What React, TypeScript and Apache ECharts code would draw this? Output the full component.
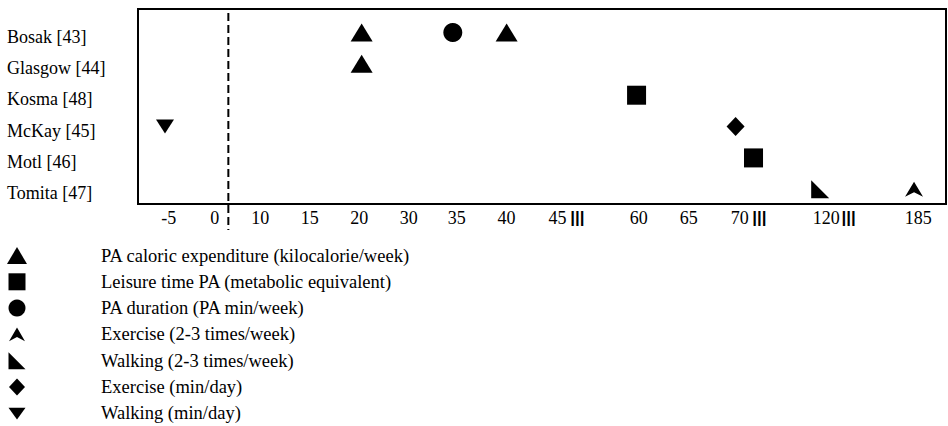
import React, { useEffect, useRef } from "react";
import * as echarts from "echarts";

const studies = ["Bosak [43]", "Glasgow [44]", "Kosma [48]", "McKay [45]", "Motl [46]", "Tomita [47]"];

// Broken x-axis: tick values and where each one sits along the axis (slot units).
const tickValues = [-5, 0, 10, 15, 20, 30, 35, 40, 45, 60, 65, 70, 120, 185];
const tickSlots = [0, 0.93, 1.85, 2.85, 3.85, 4.85, 5.82, 6.83, 7.86, 9.5, 10.51, 11.54, 13.29, 15.15];
const breakSlots = [8.26, 11.94, 13.74];
const breakMark = "|||";
const referenceValue = 3;

// Measures reported per study: [value, study]
const caloricExpenditure: [number, string][] = [[20.5, "Bosak [43]"], [40, "Bosak [43]"], [20.5, "Glasgow [44]"]];
const leisureTimeMet: [number, string][] = [[59.6, "Kosma [48]"], [78, "Motl [46]"]];
const paDuration: [number, string][] = [[34.6, "Bosak [43]"]];
const exerciseWeekly: [number, string][] = [[182, "Tomita [47]"]];
const walkingWeekly: [number, string][] = [[116.5, "Tomita [47]"]];
const exerciseDaily: [number, string][] = [[69.6, "McKay [45]"]];
const walkingDaily: [number, string][] = [[-5.4, "McKay [45]"]];

const SERIF = "'Liberation Serif', 'Times New Roman', serif";

// Piecewise-linear mapping of a value onto the broken axis.
function toSlot(v: number): number {
  const n = tickValues.length;
  let i = 0;
  if (v <= tickValues[0]) i = 0;
  else if (v >= tickValues[n - 1]) i = n - 2;
  else {
    while (i < n - 2 && v > tickValues[i + 1]) i++;
  }
  const t = (v - tickValues[i]) / (tickValues[i + 1] - tickValues[i]);
  return tickSlots[i] + t * (tickSlots[i + 1] - tickSlots[i]);
}

function points(list: [number, string][]) {
  return list.map(([v, s]) => [toSlot(v), studies.indexOf(s)]);
}

const Y_MIN = -0.75;
const Y_MAX = 5.47;
// study names sit slightly below their row of markers
const LABEL_DROP = 0.13;

// Marker shapes
const caretPath = "path://M9 0 L18 15 L9 10.5 L0 15 Z";
const rightTriPath = "path://M0 0 L18 18 L0 18 Z";
const downTriPath = "path://M0 0 L18 0 L9 14 Z";

// Legend icons (leading moveTo points pad the icon box so small glyphs keep their size)
const squareIcon = "path://M0 0 L17 0 L17 17 L0 17 Z";
const caretIcon = "path://M0 0 M15 16 M7.5 1.5 L15 14.5 L7.5 10.5 L0 14.5 Z";
const diamondIcon = "path://M8 0 L16 8.5 L8 17 L0 8.5 Z";
const walkingIcon = "path://M0 0 L17 17 L0 17 Z";
const downTriIcon = "path://M0 0 M15 15 M0 2.5 L15 2.5 L7.5 13 Z";

const seriesDefs = [
  { name: "PA caloric expenditure (kilocalorie/week)", symbol: "triangle", icon: "triangle", size: [22, 18], data: caloricExpenditure },
  { name: "Leisure time PA (metabolic equivalent)", symbol: "rect", icon: squareIcon, size: 19, data: leisureTimeMet },
  { name: "PA duration (PA min/week)", symbol: "circle", icon: "circle", size: 19, data: paDuration },
  { name: "Exercise (2-3 times/week)", symbol: caretPath, icon: caretIcon, size: [18, 15], data: exerciseWeekly },
  { name: "Walking (2-3 times/week)", symbol: rightTriPath, icon: walkingIcon, size: [18, 18], data: walkingWeekly },
  { name: "Exercise (min/day)", symbol: "diamond", icon: diamondIcon, size: [18, 19], data: exerciseDaily },
  { name: "Walking (min/day)", symbol: downTriPath, icon: downTriIcon, size: [18, 14], data: walkingDaily },
];

function xLabel(v: number): string {
  for (let i = 0; i < tickSlots.length; i++) {
    if (Math.abs(tickSlots[i] - v) < 1e-6) return String(tickValues[i]);
  }
  for (const b of breakSlots) {
    if (Math.abs(b - v) < 1e-6) return `{brk|${breakMark}}`;
  }
  return "";
}

export default function App() {
  const ref = useRef<HTMLDivElement>(null);

  useEffect(() => {
    if (!ref.current) return;
    const chart = echarts.init(ref.current, null, { renderer: "svg" });

    const scatterSeries = seriesDefs.map((d) => ({
      type: "scatter" as const,
      name: d.name,
      symbol: d.symbol,
      symbolSize: d.size,
      itemStyle: { color: "#000", opacity: 1 },
      clip: false,
      data: points(d.data),
      z: 3,
    }));

    const hiddenAxisParts = {
      axisLine: { show: false },
      axisTick: { show: false },
      splitLine: { show: false },
    };

    chart.setOption({
      animation: false,
      backgroundColor: "#fff",
      grid: {
        left: 138,
        right: 2,
        top: 9,
        bottom: 222,
        show: true,
        borderColor: "#000",
        borderWidth: 2,
        backgroundColor: "transparent",
      },
      legend: {
        orient: "vertical",
        left: 7,
        top: 246,
        height: 185,
        padding: 0,
        itemWidth: 20,
        itemHeight: 17,
        itemGap: 7.3,
        selectedMode: false,
        data: seriesDefs.map((d) => ({ name: d.name, icon: d.icon })),
        textStyle: {
          fontFamily: SERIF,
          fontSize: 18.5,
          color: "#000",
          padding: [0, 0, 0, 69],
        },
      },
      xAxis: {
        type: "value",
        min: -0.62,
        max: 15.71,
        ...hiddenAxisParts,
        axisLabel: {
          customValues: [...tickSlots, ...breakSlots],
          formatter: (v: number) => xLabel(v),
          fontFamily: SERIF,
          fontSize: 18,
          color: "#000",
          margin: 5,
          rich: {
            brk: {
              fontFamily: "'Liberation Sans', sans-serif",
              fontWeight: "bold",
              fontSize: 17,
              color: "#000",
            },
          },
        },
      },
      yAxis: [
        {
          type: "value",
          inverse: true,
          min: Y_MIN,
          max: Y_MAX,
          ...hiddenAxisParts,
          axisLabel: { show: false },
        },
        {
          type: "value",
          position: "left",
          inverse: true,
          min: Y_MIN - LABEL_DROP,
          max: Y_MAX - LABEL_DROP,
          ...hiddenAxisParts,
          axisLabel: {
            customValues: studies.map((_, i) => i),
            formatter: (v: number) => studies[Math.round(v)] ?? "",
            align: "left",
            margin: 131,
            fontFamily: SERIF,
            fontSize: 18,
            color: "#000",
          },
        },
      ],
      series: [
        {
          type: "custom",
          name: "reference",
          clip: false,
          silent: true,
          z: 1,
          data: [[toSlot(referenceValue), Y_MIN]],
          renderItem: (_params: any, api: any) => {
            const top = api.coord([api.value(0), Y_MIN]);
            const bottom = api.coord([api.value(0), Y_MAX]);
            return {
              type: "line",
              shape: { x1: top[0], y1: top[1] + 4, x2: top[0], y2: bottom[1] + 26 },
              style: { stroke: "#000", lineWidth: 2, lineDash: [8, 4] },
            };
          },
        },
        ...scatterSeries,
      ],
    });

    return () => chart.dispose();
  }, []);

  return (
    <div
      ref={ref}
      style={{ position: "absolute", left: 0, top: 0, width: 948, height: 426 }}
    />
  );
}
